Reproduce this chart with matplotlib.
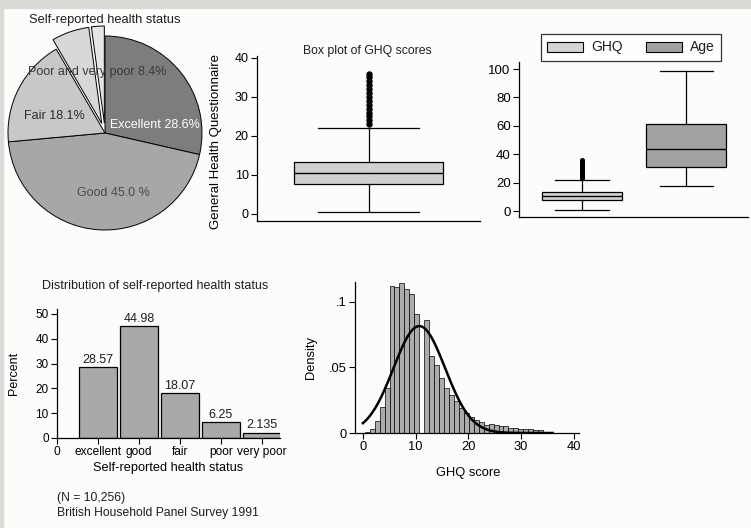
import matplotlib
matplotlib.use('Agg')
import matplotlib.pyplot as plt
import matplotlib.patches as mpatches
import numpy as np

plt.rcParams['font.family'] = ['Liberation Sans', 'DejaVu Sans']
plt.rcParams['text.color'] = '#1e1e1e'

# ---- data ----
health_status = ['excellent', 'good', 'fair', 'poor', 'very poor']
health_pct = [28.57, 44.98, 18.07, 6.25, 2.135]
pie_colors = ['#7d7d7d', '#a7a7a7', '#c8c8c8', '#d8d8d8', '#e6e6e6']
pie_explode = [0, 0, 0, 0.1, 0.1]

ghq_outliers = [23, 24, 25, 26, 27, 28, 29, 30, 31, 32, 33, 34, 35, 36]
ghq_stats = dict(q1=7.6, med=10.4, q3=13.4, whislo=0.4, whishi=22.0, fliers=ghq_outliers, label='GHQ')
age_stats = dict(q1=31.0, med=44.0, q3=61.0, whislo=17.7, whishi=99.0, fliers=[], label='Age')

hist_start = 0.35
hist_bin = 0.94
hist_density = [0.001, 0.003, 0.009, 0.020, 0.034,
                0.112, 0.111, 0.114, 0.110, 0.106, 0.091, 0.0,
                0.086, 0.059, 0.052, 0.042, 0.034, 0.029, 0.024, 0.019,
                0.015, 0.012, 0.010, 0.008, 0.006, 0.007, 0.006, 0.005,
                0.005, 0.004, 0.004, 0.003, 0.003, 0.003, 0.002, 0.002, 0.001]
ghq_mean = 10.7
ghq_sd = 4.9

W, H = 751, 528


def px(l, t, r, b):
    return [l / W, 1 - b / H, (r - l) / W, (b - t) / H]


def stata_axes(ax, size=9):
    for s in ['top', 'right']:
        ax.spines[s].set_visible(False)
    for s in ['left', 'bottom']:
        ax.spines[s].set_linewidth(0.9)
    ax.tick_params(direction='out', length=4, width=0.8, labelsize=size, pad=2)
    ax.patch.set_alpha(0)


fig = plt.figure(figsize=(W / 100, H / 100), dpi=100, facecolor='#fcfcfb')

# scan edges
fig.patches.append(mpatches.Rectangle((0, 1 - 8 / H), 1, 8 / H, transform=fig.transFigure,
                                      color='#dadad6', zorder=0))
fig.patches.append(mpatches.Rectangle((0, 0), 3 / W, 1, transform=fig.transFigure,
                                      color='#dadad6', zorder=0))

# ---- pie ----
ax0 = fig.add_axes(px(-25, 3, 235, 263))
ax0.pie(health_pct, colors=pie_colors, explode=pie_explode, startangle=90,
        counterclock=False, radius=0.97,
        wedgeprops=dict(edgecolor='black', linewidth=0.7))
ax0.set_xlim(-1.3, 1.3)
ax0.set_ylim(-1.3, 1.3)
ax0.set_aspect('equal')
ax0.axis('off')
ax0.text(0.05, 0.08, f'Excellent {health_pct[0]:.1f}%', color='white', fontsize=9,
         ha='left', va='center')
ax0.text(0.08, -0.60, f'Good {health_pct[1]:.1f} %', color='#4a4a4a', fontsize=9,
         ha='center', va='center')
ax0.text(-0.51, 0.17, f'Fair {health_pct[2]:.1f}%', color='#2a2a2a', fontsize=9,
         ha='center', va='center')
ax0.text(-0.08, 0.61, f'Poor and very poor {health_pct[3] + health_pct[4]:.1f}%',
         color='#3a3a3a', fontsize=9, ha='center', va='center')
fig.text(105 / W, 1 - 20 / H, 'Self-reported health status', ha='center', va='center',
         fontsize=9.3)

box_kw = dict(patch_artist=True,
              medianprops=dict(color='black', linewidth=1.0),
              whiskerprops=dict(color='black', linewidth=0.9),
              capprops=dict(color='black', linewidth=0.9),
              flierprops=dict(marker='o', markersize=4.2, markerfacecolor='black',
                              markeredgecolor='black'))

# ---- box plot of GHQ ----
ax1 = fig.add_axes(px(257, 56, 480, 221))
b1 = ax1.bxp([ghq_stats], positions=[0.5], widths=0.67, capwidths=0.45, **box_kw)
for p in b1['boxes']:
    p.set_facecolor('#d0d0d0')
    p.set_edgecolor('black')
    p.set_linewidth(0.9)
for f in b1['fliers']:
    f.set_markersize(3.6)
ax1.set_xlim(0, 1)
ax1.set_ylim(-1.8, 40.5)
ax1.set_yticks([0, 10, 20, 30, 40])
ax1.set_xticks([])
stata_axes(ax1, 9)
ax1.set_ylabel('General Health Questionnaire', fontsize=9.5)
ax1.yaxis.set_label_coords(-0.157, 0.48)
fig.text(367 / W, 1 - 51 / H, 'Box plot of GHQ scores', ha='center', va='center', fontsize=8.8)

# ---- box plot of GHQ and age ----
ax2 = fig.add_axes(px(519, 62, 748, 217))
b2 = ax2.bxp([ghq_stats, age_stats], positions=[1, 2], widths=0.77, capwidths=0.51, **box_kw)
for p, c in zip(b2['boxes'], ['#d4d4d4', '#a2a2a2']):
    p.set_facecolor(c)
    p.set_edgecolor('black')
    p.set_linewidth(0.9)
for f in b2['fliers']:
    f.set_markersize(2.6)
ax2.set_xlim(0.395, 2.595)
ax2.set_ylim(-4.2, 105)
ax2.set_yticks([0, 20, 40, 60, 80, 100])
ax2.set_xticks([])
stata_axes(ax2, 9.5)
handles = [mpatches.Patch(facecolor='#d4d4d4', edgecolor='black', linewidth=0.8),
           mpatches.Patch(facecolor='#a2a2a2', edgecolor='black', linewidth=0.8)]
leg = fig.legend(handles, ['GHQ', 'Age'], ncol=2, loc='center',
                 bbox_to_anchor=(631 / W, 1 - 47.5 / H), fancybox=False, edgecolor='black',
                 fontsize=10, handlelength=2.6, handleheight=0.7, columnspacing=1.6,
                 borderpad=0.45, handletextpad=0.6)
leg.get_frame().set_linewidth(0.9)
leg.get_frame().set_facecolor('white')

# ---- bar chart ----
ax3 = fig.add_axes(px(57, 309, 280, 438))
xpos = np.arange(1, len(health_pct) + 1)
ax3.bar(xpos, health_pct, width=0.92, color='#a9a9a9', edgecolor='black', linewidth=0.9)
for xi, v in zip(xpos, health_pct):
    ax3.annotate(f'{v:g}', (xi, v), xytext=(0, 1), textcoords='offset points',
                 ha='center', va='bottom', fontsize=9)
ax3.set_xlim(0, 5.44)
ax3.set_ylim(0, 52)
ax3.set_xticks(np.arange(0, len(health_pct) + 1))
ax3.set_xticklabels(['0'] + health_status)
ax3.set_yticks([0, 10, 20, 30, 40, 50])
stata_axes(ax3, 8.6)
ax3.tick_params(axis='y', labelsize=8.5)
ax3.set_ylabel('Percent', fontsize=9)
ax3.yaxis.set_label_coords(-0.166, 0.5)
ax3.set_xlabel('Self-reported health status', fontsize=9.2, labelpad=3)
fig.text(155 / W, 1 - 286 / H, 'Distribution of self-reported health status',
         ha='center', va='center', fontsize=9)
fig.text(57 / W, 1 - 498 / H, '(N = 10,256)', ha='left', va='center', fontsize=8.7)
fig.text(57 / W, 1 - 513 / H, 'British Household Panel Survey 1991', ha='left',
         va='center', fontsize=8.7)

# ---- histogram ----
ax4 = fig.add_axes(px(355, 282, 579, 433))
edges = hist_start + hist_bin * np.arange(len(hist_density))
ax4.bar(edges, hist_density, width=hist_bin, align='edge', color='#acacac',
        edgecolor='black', linewidth=0.5)
xs = np.linspace(0, 36, 200)
ax4.plot(xs, np.exp(-0.5 * ((xs - ghq_mean) / ghq_sd) ** 2) / (ghq_sd * np.sqrt(2 * np.pi)),
         color='black', linewidth=1.8)
ax4.set_xlim(-1.5, 41)
ax4.set_ylim(0, 0.115)
ax4.set_xticks([0, 10, 20, 30, 40])
ax4.set_yticks([0, 0.05, 0.1])
ax4.set_yticklabels(['0', '.05', '.1'])
stata_axes(ax4, 9.3)
ax4.set_ylabel('Density', fontsize=9.3)
ax4.yaxis.set_label_coords(-0.17, 0.5)
ax4.set_xlabel('GHQ score', fontsize=9.3)
ax4.xaxis.set_label_coords(0.504, -0.225)

fig.savefig('out.png', dpi=100, facecolor=fig.get_facecolor())
